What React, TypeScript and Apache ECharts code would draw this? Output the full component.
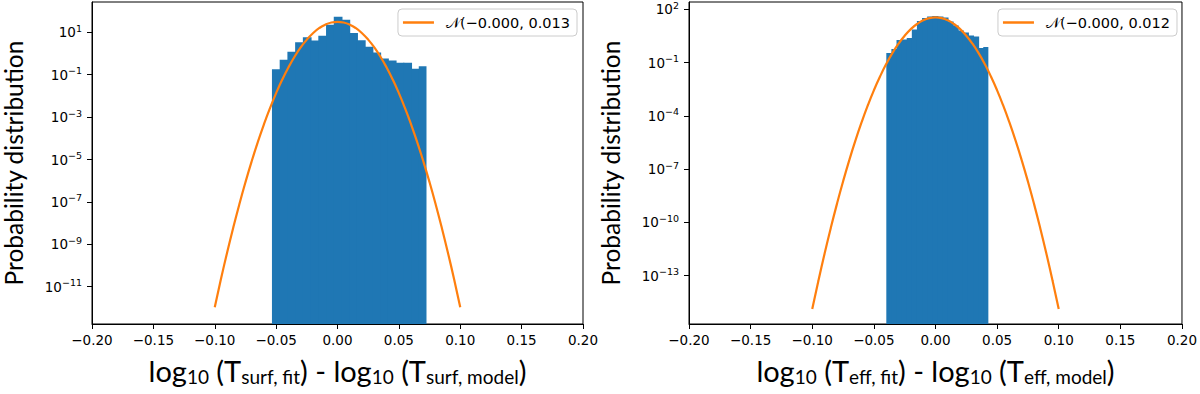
import React, { useEffect, useRef } from "react";
import * as echarts from "echarts";

// ---------- data ----------
// Left panel: histogram of log10(Tsurf,fit) - log10(Tsurf,model), 20 equal bins
const leftBinLow = -0.0534;
const leftBinHigh = 0.0725;
const leftDensity = [
  0.182, 0.505, 1.2, 3.41, 5.87, 4.1, 6.92, 22.8, 53.8, 39.3,
  9.27, 4.2, 2.07, 1.11, 0.581, 0.468, 0.368, 0.368, 0.19, 0.252,
];
// Right panel: histogram of log10(Teff,fit) - log10(Teff,model), 20 equal bins
const rightBinLow = -0.0399;
const rightBinHigh = 0.0429;
const rightDensity = [
  0.343, 0.577, 1.85, 1.98, 2.4, 7.26, 21.9, 32.3, 39.3, 41.9,
  39.3, 34.5, 20.5, 12.2, 6.37, 4.91, 3.33, 2.92, 0.656, 0.748,
];

// Gaussian curves, read as log10(pdf) at these x positions
const curveX = [
  -0.1, -0.095, -0.09, -0.085, -0.08, -0.075, -0.07, -0.065, -0.06, -0.055,
  -0.05, -0.045, -0.04, -0.035, -0.03, -0.025, -0.02, -0.015, -0.01, -0.005,
  0,
  0.005, 0.01, 0.015, 0.02, 0.025, 0.03, 0.035, 0.04, 0.045, 0.05,
  0.055, 0.06, 0.065, 0.07, 0.075, 0.08, 0.085, 0.09, 0.095, 0.1,
];
const leftCurveLog10 = [
  -11.966, -10.653, -9.408, -8.23, -7.119, -6.076, -5.1, -4.191, -3.35, -2.576,
  -1.869, -1.229, -0.657, -0.152, 0.285, 0.656, 0.958, 1.194, 1.362, 1.463,
  1.497,
  1.463, 1.362, 1.194, 0.958, 0.656, 0.285, -0.152, -0.657, -1.229, -1.869,
  -2.576, -3.35, -4.191, -5.1, -6.076, -7.119, -8.23, -9.408, -10.653, -11.966,
];
const rightCurveLog10 = [
  -14.88, -13.279, -11.76, -10.323, -8.969, -7.696, -6.506, -5.397, -4.371, -3.427,
  -2.565, -1.785, -1.087, -0.472, 0.062, 0.514, 0.883, 1.171, 1.376, 1.499,
  1.54,
  1.499, 1.376, 1.171, 0.883, 0.514, 0.062, -0.472, -1.087, -1.785, -2.565,
  -3.427, -4.371, -5.397, -6.506, -7.696, -8.969, -10.323, -11.76, -13.279, -14.88,
];

const leftLegend = "\u{1D4A9}(\u22120.000, 0.013";
const rightLegend = "\u{1D4A9}(\u22120.000, 0.012";

// Tick exponents (labels 10^n)
const leftYTicks = [-11, -9, -7, -5, -3, -1, 1];
const rightYTicks = [-13, -10, -7, -4, -1, 2];
const leftYRange = [-12.76, 2.43];
const rightYRange = [-15.72, 2.41];

const leftXTitle = "log{sub|10} (T{sub|surf, fit}) - log{sub|10} (T{sub|surf, model})";
const rightXTitle = "log{sub|10} (T{sub|eff, fit}) - log{sub|10} (T{sub|eff, model})";
const yTitle = "Probability distribution";

// ---------- helpers ----------
const BLUE = "#1f77b4";
const ORANGE = "#ff7f0e";
const TICK_FONT = "DejaVu Sans";
const TITLE_FONT = "Lato";

function histData(lo: number, hi: number, dens: number[]) {
  const w = (hi - lo) / dens.length;
  return dens.map((d, i) => [lo + i * w, lo + (i + 1) * w, Math.log10(d), i === dens.length - 1 ? 0 : 1]);
}

function fmtX(v: number) {
  if (Math.abs(v) < 1e-9) return "0.00";
  return (v < 0 ? "\u2212" : "") + Math.abs(v).toFixed(2);
}

function fmtY(v: number) {
  const n = Math.round(v);
  return "10{sup|" + (n < 0 ? "\u2212" : "") + Math.abs(n) + "}";
}

function xAxisCfg(gridIndex: number, name: string) {
  return {
    type: "value",
    gridIndex,
    min: -0.2,
    max: 0.2,
    interval: 0.05,
    axisLine: { show: true, onZero: false, lineStyle: { color: "#000", width: 1 } },
    axisTick: { show: true, length: 5, lineStyle: { color: "#000", width: 1 } },
    axisLabel: {
      fontFamily: TICK_FONT,
      fontSize: 13.5,
      color: "#000",
      margin: 9,
      formatter: fmtX,
      showMinLabel: true,
      showMaxLabel: true,
      hideOverlap: false,
    },
    splitLine: { show: false },
    name,
    nameLocation: "middle",
    nameGap: 30,
    nameTextStyle: {
      fontFamily: TITLE_FONT,
      fontSize: 29,
      color: "#000",
      lineHeight: 32,
      rich: {
        sub: {
          fontFamily: TITLE_FONT,
          fontSize: 19,
          color: "#000",
          lineHeight: 19,
          verticalAlign: "bottom",
        },
      },
    },
  };
}

function yAxisCfg(gridIndex: number, range: number[], ticks: number[]) {
  return {
    type: "value",
    gridIndex,
    min: range[0],
    max: range[1],
    axisLine: { show: true, onZero: false, lineStyle: { color: "#000", width: 1 } },
    axisTick: { show: true, length: 5, customValues: ticks, lineStyle: { color: "#000", width: 1 } },
    axisLabel: {
      customValues: ticks,
      fontFamily: TICK_FONT,
      fontSize: 13.5,
      lineHeight: 18,
      color: "#000",
      margin: 10,
      formatter: fmtY,
      rich: {
        sup: {
          fontFamily: TICK_FONT,
          fontSize: 9.5,
          lineHeight: 10,
          color: "#000",
          verticalAlign: "top",
        },
      },
    },
    splitLine: { show: false },
    name: yTitle,
    nameLocation: "middle",
    nameGap: 66,
    nameTextStyle: { fontFamily: TITLE_FONT, fontSize: 24.5, color: "#000" },
  };
}

function histSeries(idx: number, lo: number, hi: number, dens: number[], yMin: number) {
  return {
    type: "custom",
    xAxisIndex: idx,
    yAxisIndex: idx,
    clip: true,
    silent: true,
    z: 2,
    encode: { x: [0, 1], y: 2 },
    data: histData(lo, hi, dens),
    renderItem: (params: any, api: any) => {
      const p0 = api.coord([api.value(0), yMin]);
      const p1 = api.coord([api.value(1), api.value(2)]);
      const overlap = api.value(3) ? 1 : 0;
      return {
        type: "rect",
        shape: { x: p0[0], y: p1[1], width: p1[0] - p0[0] + overlap, height: p0[1] - p1[1] },
        style: { fill: BLUE, stroke: null },
      };
    },
  };
}

function curveSeries(idx: number, name: string, logs: number[]) {
  return {
    type: "line",
    name,
    xAxisIndex: idx,
    yAxisIndex: idx,
    showSymbol: false,
    symbol: "none",
    smooth: true,
    z: 5,
    lineStyle: { color: ORANGE, width: 2.2 },
    itemStyle: { color: ORANGE },
    data: curveX.map((x, i) => [x, logs[i]]),
  };
}

function legendCfg(name: string, right: number) {
  return {
    data: [{ name, icon: "rect" }],
    right,
    top: 9,
    orient: "horizontal",
    padding: [6, 7, 6, 5],
    itemWidth: 31,
    itemHeight: 2.5,
    itemGap: 0,
    backgroundColor: "rgba(255,255,255,0.8)",
    borderColor: "#cccccc",
    borderWidth: 1,
    borderRadius: 4,
    selectedMode: false,
    itemStyle: { color: ORANGE },
    textStyle: { fontFamily: TICK_FONT, fontSize: 14.5, lineHeight: 14, color: "#000", padding: [0, 0, 0, 7] },
  };
}

function buildOption() {
  return {
    animation: false,
    backgroundColor: "#fff",
    grid: [
      { left: 89, right: 617, top: 2, bottom: 70, show: true, borderColor: "#000", borderWidth: 1, backgroundColor: "transparent" },
      { left: 689, right: 17, top: 2, bottom: 70, show: true, borderColor: "#000", borderWidth: 1, backgroundColor: "transparent" },
    ],
    legend: [legendCfg(leftLegend, 623), legendCfg(rightLegend, 23)],
    xAxis: [xAxisCfg(0, leftXTitle), xAxisCfg(1, rightXTitle)],
    yAxis: [yAxisCfg(0, leftYRange, leftYTicks), yAxisCfg(1, rightYRange, rightYTicks)],
    series: [
      histSeries(0, leftBinLow, leftBinHigh, leftDensity, leftYRange[0]),
      histSeries(1, rightBinLow, rightBinHigh, rightDensity, rightYRange[0]),
      curveSeries(0, leftLegend, leftCurveLog10),
      curveSeries(1, rightLegend, rightCurveLog10),
    ],
  };
}

export default function App() {
  const ref = useRef<HTMLDivElement>(null);
  useEffect(() => {
    if (!ref.current) return;
    const chart = echarts.init(ref.current, null, { renderer: "svg" });
    chart.setOption(buildOption() as any);
    return () => chart.dispose();
  }, []);
  return (
    <div
      ref={ref}
      style={{ position: "fixed", left: 0, top: 0, width: 1200, height: 394, background: "#fff" }}
    />
  );
}
